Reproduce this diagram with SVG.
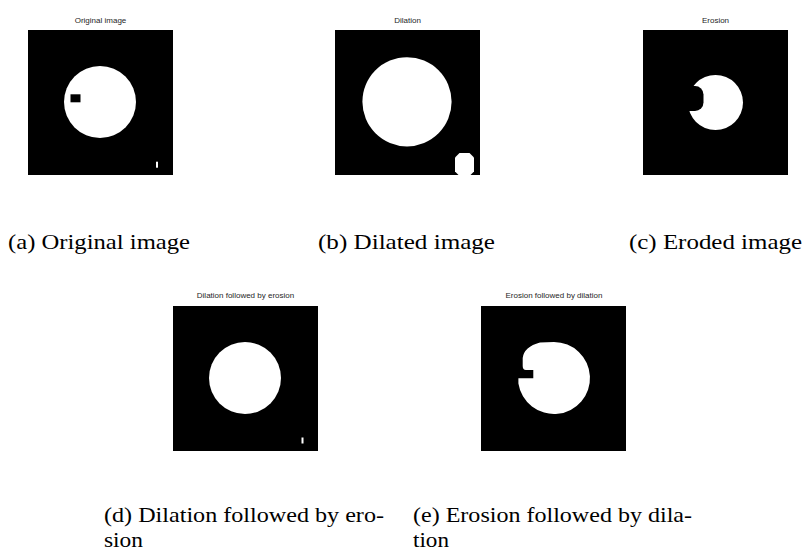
<svg xmlns="http://www.w3.org/2000/svg" width="804" height="551" viewBox="0 0 804 551">
<style>
.bg{fill:#000}
.w{fill:#fff}
.k{fill:#000}
.title{font-family:'Liberation Sans',Arial,sans-serif;font-size:8px;fill:#262626;text-anchor:middle}
.cap{font-family:'Liberation Serif','Times New Roman',serif;font-size:22px;fill:#000}
</style>
<defs>
<clipPath id="clipB"><rect x="335" y="30" width="145" height="145"/></clipPath>
</defs>
<rect width="804" height="551" fill="#fff"/>

<g id="panel-a">
<text class="title" x="100.5" y="23">Original image</text>
<rect class="bg" x="28" y="30" width="145" height="145"/>
<circle class="w" cx="100" cy="102" r="36"/>
<rect class="k" x="70.5" y="94.3" width="10" height="8"/>
<rect class="w" x="156" y="161.7" width="2" height="6"/>
<text class="cap" x="8" y="249" textLength="182" lengthAdjust="spacingAndGlyphs">(a) Original image</text>
</g>

<g id="panel-b">
<text class="title" x="407.5" y="23">Dilation</text>
<rect class="bg" x="335" y="30" width="145" height="145"/>
<circle class="w" cx="407" cy="101.8" r="44.6"/>
<polygon class="w" clip-path="url(#clipB)" points="459.5,153 469.5,153 474,157.5 474,171.5 469.5,176 459.5,176 455,171.5 455,157.5"/>
<text class="cap" x="318" y="249" textLength="177" lengthAdjust="spacingAndGlyphs">(b) Dilated image</text>
</g>

<g id="panel-c">
<text class="title" x="715.5" y="23">Erosion</text>
<rect class="bg" x="643" y="30" width="145" height="145"/>
<circle class="w" cx="715.5" cy="102.5" r="27.5"/>
<rect class="k" x="677" y="86" width="26.5" height="25" rx="8.5" ry="8.5"/>
<text class="cap" x="629" y="249" textLength="173" lengthAdjust="spacingAndGlyphs">(c) Eroded image</text>
</g>

<g id="panel-d">
<text class="title" x="245.5" y="298">Dilation followed by erosion</text>
<rect class="bg" x="173" y="306" width="145" height="145"/>
<circle class="w" cx="245" cy="378" r="36"/>
<rect class="w" x="301.5" y="437.5" width="2" height="6"/>
<text class="cap" x="104" y="522" textLength="280" lengthAdjust="spacingAndGlyphs">(d) Dilation followed by ero-</text>
<text class="cap" x="104" y="547" textLength="39" lengthAdjust="spacingAndGlyphs">sion</text>
</g>

<g id="panel-e">
<text class="title" x="554" y="298">Erosion followed by dilation</text>
<rect class="bg" x="481" y="306" width="145" height="145"/>
<path class="w" d="M554 342 A36 36 0 1 1 518.4 383.5 L518.4 378.3 L533.3 378.3 L533.3 370 L526 370 Q522.7 370 522.7 366 L522.7 358 Q524 347 540 342.6 Q547 342 554 342 Z"/>
<text class="cap" x="413" y="522" textLength="279" lengthAdjust="spacingAndGlyphs">(e) Erosion followed by dila-</text>
<text class="cap" x="413" y="547" textLength="36" lengthAdjust="spacingAndGlyphs">tion</text>
</g>

<g id="connectors"></g>
</svg>
